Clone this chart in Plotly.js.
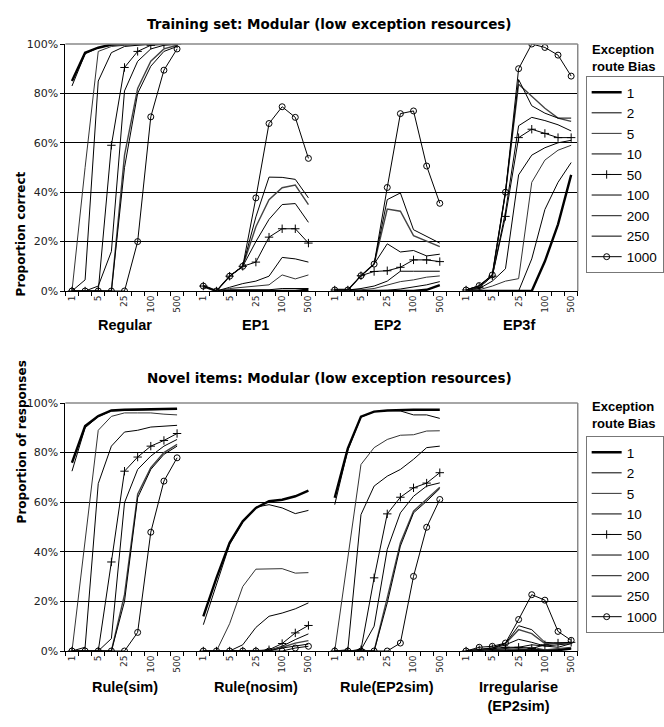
<!DOCTYPE html>
<html>
<head>
<meta charset="utf-8">
<script src="https://cdn.plot.ly/plotly-3.0.1.min.js"></script>
<style>
  html, body { margin: 0; padding: 0; background: #fff; }
  #chart { width: 664px; height: 727px; }
</style>
</head>
<body>
<div id="chart"></div>
<script>
// ---------- DATA ----------
const epochs = ['1', '2', '5', '10', '25', '50', '100', '250', '500'];
const trainGroups = ['Regular', 'EP1', 'EP2', 'EP3f'];
const novelGroups = ['Rule(sim)', 'Rule(nosim)', 'Rule(EP2sim)', 'Irregularise<br>(EP2sim)'];
const biases = ['1', '2', '5', '10', '50', '100', '200', '250', '1000'];

// Training set (per bias): Regular | EP1 | EP2 | EP3f, each over the 9 epochs
const trainB1 = [85, 96.5, 98.5, 99.8, 100, 100, 100, 100, 100,  2, 0, 0, 0, 0, 0, 0, 0, 0.5,  0.4, 0.4, 0, 0, 0, 0, 0, 0.5, 2.4,  0, 0, 0, 0, 0, 0, 12, 27, 47];
const trainB2 = [83, 96, 98.5, 99.5, 100, 100, 100, 100, 100,  2, 0, 0.5, 0.5, 0.5, 0.5, 1, 1, 1,  0.4, 0.4, 0, 0, 0.3, 0.8, 1.5, 2.5, 3.8,  0, 0, 0, 0, 0, 13, 33, 44, 52];
const trainB5 = [0, 50, 97, 99, 99.5, 100, 100, 100, 100,  2, 0, 1, 1.5, 2, 2.5, 6.5, 4.9, 6.5,  0.4, 0.4, 0.5, 1, 2.4, 3.8, 4.5, 5.6, 6.1,  0.4, 0.5, 2, 4, 5, 44, 53, 57, 59];
const trainB10 = [0, 4.5, 85, 96.5, 99, 99.5, 100, 100, 100,  2, 0, 1.5, 3, 4, 6, 13.6, 13, 11.7,  0.4, 0.4, 1, 2, 4, 8, 8, 8, 8,  0.4, 1, 4, 9, 47, 55, 58, 60, 61];
const trainB50 = [0, 0, 0, 59, 90.5, 97, 99.5, 100, 100,  2, 0, 6, 10, 11.7, 21.8, 25.2, 25.2, 19.4,  0.4, 0.4, 6.2, 7.9, 8.2, 9.6, 12.6, 12.6, 11.9,  0.4, 1.5, 6, 30.2, 62.1, 65.5, 63.8, 62.1, 62.1];
const trainB100 = [0, 0, 2, 16, 81, 93, 98, 99.5, 100,  2, 0, 6, 10, 20, 29, 35, 35.4, 27.8,  0.4, 0.4, 6.2, 10.9, 19.1, 15.8, 16.4, 14.2, 14.9,  0.4, 1.5, 6, 32, 66.9, 70.3, 69, 67.3, 64.8];
const trainB200 = [0, 0, 0, 0, 55, 82, 93, 98, 99.5,  2, 0, 6, 10, 26, 37, 41.8, 42.9, 35,  0.4, 0.4, 6.2, 10.9, 33.2, 32.3, 22.4, 20.1, 18,  0.4, 2, 6.5, 40, 83.7, 79, 74, 70, 68.7];
const trainB250 = [0, 0, 0, 0, 50, 80, 91, 97, 99,  2, 0, 6, 10, 30, 46.1, 46, 45.2, 37.7,  0.4, 0.4, 6.2, 10.9, 37, 39.7, 24.8, 22.1, 19.4,  0.4, 2, 6.5, 40, 85.6, 75, 72, 70, 70];
const trainB1000 = [0, 0, 0, 0, 0, 20, 70.5, 89.4, 98,  2, 0, 6, 10, 37.7, 67.8, 74.6, 70.3, 53.7,  0.4, 0.4, 6.2, 10.9, 41.9, 71.8, 72.9, 50.6, 35.5,  0.4, 2.2, 6.5, 40, 90, 100, 98.6, 95.5, 87];

// Novel items (per bias): Rule(sim) | Rule(nosim) | Rule(EP2sim) | Irregularise(EP2sim)
const novelB1 = [75.9, 90.7, 94.7, 97, 97.3, 97.4, 97.5, 97.6, 97.7,  14, 29.5, 43.6, 52.3, 57.7, 60.4, 61, 62.4, 64.7,  61.8, 81.7, 94.5, 96.5, 97, 97.2, 97.3, 97.3, 97.3,  0, 0, 0, 0, 0, 0, 0, 0.3, 1];
const novelB2 = [72.5, 90, 94.5, 96.8, 97, 97.2, 97.3, 97.4, 97.5,  10.6, 27, 43, 52, 58, 59, 57.7, 55.4, 56.7,  59, 81, 94.3, 96.5, 97, 96.8, 95.2, 95.2, 93.8,  0, 0, 0, 0, 0.5, 0.5, 0.2, 0.5, 1];
const novelB5 = [0, 45, 89, 94.6, 96, 96, 96, 95.5, 95.2,  0, 0, 11, 26, 33, 33, 33.2, 31.4, 31.6,  0, 37, 75.2, 82, 85.3, 87, 87.2, 88.7, 88.8,  0, 0, 0.5, 0.5, 1, 1.5, 0.5, 1, 1.5];
const novelB10 = [0, 1.5, 67.5, 82.6, 88.3, 89, 90.3, 90.6, 91,  0, 0, 0, 2.5, 9.5, 14, 15.3, 17, 19.4,  0, 0.5, 55, 66.5, 70.5, 73.2, 77.3, 82, 82.6,  0, 0.3, 0.8, 1, 1.5, 2.5, 2, 1.5, 3];
const novelB50 = [0, 0, 0, 35.9, 72.5, 78.2, 82.6, 84.9, 87.7,  0, 0, 0, 0, 0, 0.5, 3, 7.3, 10.3,  0, 0, 0.5, 29.5, 55.3, 62, 65.8, 67.7, 71.9,  0, 0.5, 1, 1.5, 1.5, 1, 2.5, 3.2, 3.5];
const novelB100 = [0, 0, 0, 5, 59.8, 73.2, 78.6, 82.6, 85.3,  0, 0, 0, 0, 0, 0.3, 1.9, 4.6, 6.9,  0, 0, 0.5, 10, 41, 55.7, 62.4, 66.5, 67.8,  0, 0.5, 1, 2.5, 4.7, 3.5, 2, 2.5, 3];
const novelB200 = [0, 0, 0, 0, 22.7, 63.2, 73.9, 80, 83.3,  0, 0, 0, 0, 0, 0.2, 1.5, 3.2, 4.2,  0, 0, 0, 0, 21.4, 43.6, 56.4, 61.1, 66,  0, 0.5, 1.2, 3, 8.6, 7, 3, 3, 3.2];
const novelB250 = [0, 0, 0, 0, 20, 61.8, 73.2, 79.3, 82.6,  0, 0, 0, 0, 0, 0.1, 1.2, 1.9, 2.8,  0, 0, 0, 0, 19.4, 42.3, 55.7, 60.4, 65.5,  0, 0.5, 1.2, 3, 10.2, 8.6, 3.5, 3.2, 3.5];
const novelB1000 = [0, 0, 0, 0, 0, 7.5, 47.9, 68.5, 77.9,  0, 0, 0, 0, 0, 0, 0, 1.2, 1.9,  0, 0, 0, 0, 0, 3.2, 30.1, 49.9, 61.1,  0, 1.5, 1.9, 3.2, 12.7, 22.7, 20.5, 7.9, 4.3];

const trainSeries = [trainB1, trainB2, trainB5, trainB10, trainB50, trainB100, trainB200, trainB250, trainB1000];
const novelSeries = [novelB1, novelB2, novelB5, novelB10, novelB50, novelB100, novelB200, novelB250, novelB1000];

// ---------- STYLE ----------
const styles = [
  { color: '#000', width: 2.4 },
  { color: '#000', width: 1 },
  { color: '#333', width: 1 },
  { color: '#000', width: 1 },
  { color: '#000', width: 1, symbol: 'cross-thin', size: 6 },
  { color: '#000', width: 1 },
  { color: '#444', width: 1.4 },
  { color: '#000', width: 1 },
  { color: '#000', width: 1, symbol: 'circle-open', size: 6 }
];

const nG = 4, nE = epochs.length, slot = nE + 1;

function toXY(vals) {
  const x = [], y = [];
  for (let g = 0; g < nG; g++) {
    for (let i = 0; i < nE; i++) { x.push(g * slot + i); y.push(vals[g * nE + i]); }
    if (g < nG - 1) { x.push(g * slot + nE); y.push(null); }
  }
  return { x, y };
}

const traces = [];
[[trainSeries, 'x', 'y', 'legend'], [novelSeries, 'x2', 'y2', 'legend2']].forEach(([set, xa, ya, lg]) => {
  set.forEach((vals, k) => {
    const st = styles[k];
    const xy = toXY(vals);
    const tr = {
      type: 'scatter', x: xy.x, y: xy.y, xaxis: xa, yaxis: ya, legend: lg,
      name: biases[k], connectgaps: false,
      mode: st.symbol ? 'lines+markers' : 'lines',
      line: { color: st.color, width: st.width }
    };
    if (st.symbol) tr.marker = { symbol: st.symbol, size: st.size, color: st.color, line: { color: st.color, width: 1 } };
    traces.push(tr);
  });
});

// ---------- AXES ----------
const tickvals = [], ticktext = [];
for (let g = 0; g < nG; g++) for (let i = 0; i < nE; i += 2) { tickvals.push(g * slot + i); ticktext.push(epochs[i]); }
const nCat = nG * slot - 1;
const bounds = [];
for (let c = 0; c <= nCat; c++) bounds.push(c - 0.5);

const W = 664, H = 727;
const px = v => v / W, py = v => 1 - v / H;

function xAxis(anchor, dom) {
  return {
    domain: dom, anchor: anchor, range: [-0.5, nCat - 0.5], tickmode: 'array', tickvals, ticktext,
    tickangle: -90, ticks: '', showgrid: false, zeroline: false, showline: true, linecolor: '#000', linewidth: 1,
    tickfont: { family: 'DejaVu Sans, Verdana, sans-serif', size: 9, color: '#222' },
    minor: { tickmode: 'array', tickvals: bounds, ticks: 'outside', ticklen: 4, tickcolor: '#000', tickwidth: 1, showgrid: false },
    fixedrange: true
  };
}
function yAxis(anchor, dom) {
  return {
    domain: dom, anchor: anchor, range: [0, 100], tickmode: 'linear', tick0: 0, dtick: 20, ticksuffix: '%',
    showgrid: true, gridcolor: '#000', gridwidth: 1, zeroline: false, showline: true, linecolor: '#000', linewidth: 1,
    ticks: 'outside', ticklen: 4, tickcolor: '#000',
    tickfont: { family: 'DejaVu Sans, Verdana, sans-serif', size: 11, color: '#222' },
    fixedrange: true
  };
}

const xDom = [px(66), px(583)];
const yDom1 = [py(291), py(44)];
const yDom2 = [py(651), py(403)];

const boldV = 'DejaVu Sans, Verdana, sans-serif';
const boldA = 'Liberation Sans, Arial, sans-serif';

const annotations = [
  { text: '<b>Training set: Modular (low exception resources)</b>', xref: 'paper', yref: 'paper', x: px(333), y: py(14),
    showarrow: false, font: { family: boldV, size: 13.5, color: '#000' } },
  { text: '<b>Novel items: Modular (low exception resources)</b>', xref: 'paper', yref: 'paper', x: px(333), y: py(378),
    showarrow: false, font: { family: boldV, size: 13.5, color: '#000' } },
  { text: '<b>Proportion correct</b>', xref: 'paper', yref: 'paper', x: px(13), y: py(169), textangle: -90,
    showarrow: false, font: { family: boldV, size: 12, color: '#000' } },
  { text: '<b>Proportion of responses</b>', xref: 'paper', yref: 'paper', x: px(13), y: py(525), textangle: -90,
    showarrow: false, font: { family: boldV, size: 12, color: '#000' } },
  { text: '<b>Exception<br>route Bias</b>', xref: 'paper', yref: 'paper', x: px(595), y: py(40), xanchor: 'left', yanchor: 'top', align: 'left',
    showarrow: false, font: { family: boldA, size: 13, color: '#000' } },
  { text: '<b>Exception<br>route Bias</b>', xref: 'paper', yref: 'paper', x: px(595), y: py(397), xanchor: 'left', yanchor: 'top', align: 'left',
    showarrow: false, font: { family: boldA, size: 13, color: '#000' } }
];
trainGroups.forEach((g, k) => annotations.push({
  text: '<b>' + g + '</b>', xref: 'x', yref: 'paper', x: k * slot + (nE - 1) / 2, y: py(315), yanchor: 'top',
  showarrow: false, font: { family: boldA, size: 14.5, color: '#000' }
}));
novelGroups.forEach((g, k) => annotations.push({
  text: '<b>' + g + '</b>', xref: 'x2', yref: 'paper', x: k * slot + (nE - 1) / 2, y: py(677), yanchor: 'top',
  showarrow: false, font: { family: boldA, size: 14.5, color: '#000' }
}));

const shapes = [];
[['x', 'y'], ['x2', 'y2']].forEach(([xa, ya]) => {
  shapes.push({ type: 'line', xref: xa + ' domain', yref: ya + ' domain', x0: 0, x1: 1, y0: 1, y1: 1, line: { color: '#888', width: 1.5 }, layer: 'above' });
  shapes.push({ type: 'line', xref: xa + ' domain', yref: ya + ' domain', x0: 1, x1: 1, y0: 0, y1: 1, line: { color: '#888', width: 1.5 }, layer: 'above' });
});

const legendBase = {
  xanchor: 'left', yanchor: 'top', bgcolor: '#fff', bordercolor: '#777', borderwidth: 1,
  font: { family: boldA, size: 13.5, color: '#000' }, traceorder: 'normal', itemclick: false, itemdoubleclick: false
};

const layout = {
  width: W, height: H, margin: { l: 0, r: 0, t: 0, b: 0 },
  paper_bgcolor: '#fff', plot_bgcolor: '#fff', showlegend: true, hovermode: false,
  xaxis: xAxis('y', xDom), yaxis: yAxis('x', yDom1),
  xaxis2: xAxis('y2', xDom), yaxis2: yAxis('x2', yDom2),
  legend: Object.assign({}, legendBase, { x: px(591), y: py(76) }),
  legend2: Object.assign({}, legendBase, { x: px(591), y: py(436) }),
  annotations, shapes
};

Plotly.newPlot('chart', traces, layout, { staticPlot: true, displayModeBar: false });
</script>
</body>
</html>
